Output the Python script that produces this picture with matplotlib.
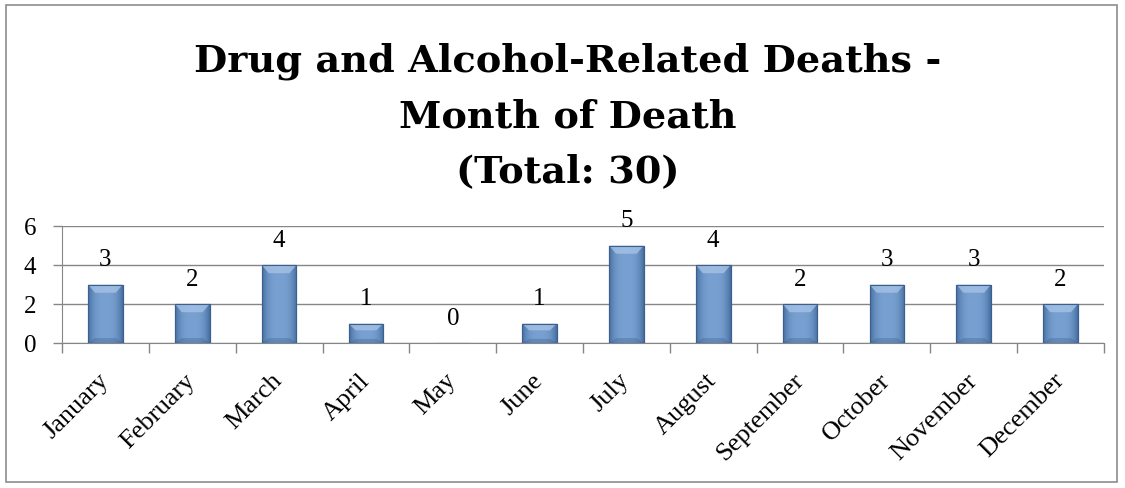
import matplotlib.pyplot as plt
import matplotlib.transforms as mtransforms
import numpy as np
from matplotlib.patches import Rectangle

months = ['January', 'February', 'March', 'April', 'May', 'June', 'July',
          'August', 'September', 'October', 'November', 'December']
deaths = [3, 2, 4, 1, 0, 1, 5, 4, 2, 3, 3, 2]
yticks = [0, 2, 4, 6]
title_lines = ['Drug and Alcohol-Related Deaths -', 'Month of Death', '(Total: 30)']

plt.rcParams['font.family'] = ['Liberation Serif', 'DejaVu Serif']

W, H = 1125, 489
fig = plt.figure(figsize=(W / 100, H / 100), dpi=100)
ax = fig.add_axes([62 / W, 1 - 344 / H, 1042 / W, 117 / H])

# outer chart border
fig.patches.append(Rectangle((6 / W, 6 / H), 1111 / W, 477 / H,
                             transform=fig.transFigure, fill=False,
                             edgecolor='#8c8c8c', lw=1.2))

# title, one line at a time (baselines)
for line, base in zip(title_lines, [72, 127, 182]):
    fig.text(568 / W, 1 - base / H, line, ha='center', va='baseline',
             fontsize=27.5, fontweight='bold', family=['DejaVu Serif'])

x = np.arange(len(months))
w = 0.40
# horizontal gradient for the bevelled bars
g = np.linspace(-1, 1, 64)
shade = 1 - np.abs(g) ** 3
dark = np.array([0.27, 0.43, 0.63])
light = np.array([0.47, 0.63, 0.82])
grad = dark[None, :] + (light - dark)[None, :] * shade[:, None]
grad = grad[None, :, :]

bars = ax.bar(x, deaths, width=w, color='#5a85bd', edgecolor='#3d5f8c', lw=0.8, zorder=3)
for b in bars:
    h = b.get_height()
    if h <= 0:
        continue
    x0 = b.get_x()
    im = ax.imshow(grad, extent=[x0, x0 + w, 0, h], aspect='auto', zorder=3.5,
                   interpolation='bicubic')
    im.set_clip_path(b)
    # top bevel highlight
    top = min(0.42, 0.35 * h)
    ax.fill([x0, x0 + w, x0 + w * 0.8, x0 + w * 0.2], [h, h, h - top, h - top],
            color='#a6c2e6', alpha=0.8, zorder=4, lw=0)
    # darker bottom bevel
    ax.fill([x0, x0 + w, x0 + w * 0.8, x0 + w * 0.2], [0, 0, top * 0.6, top * 0.6],
            color='#3b5f8e', alpha=0.35, zorder=4, lw=0)
    ax.add_patch(Rectangle((x0, 0), w, h, fill=False, edgecolor='#3d5f8c', lw=0.8, zorder=5))

for xi, v in zip(x, deaths):
    ax.annotate(str(v), (xi, v), xytext=(0, 14), textcoords='offset points',
                ha='center', va='baseline', fontsize=18)

ax.set_xlim(-0.5, len(months) - 0.5)
ax.set_ylim(0, 6)
ax.set_yticks(yticks)
ax.set_yticklabels([str(t) for t in yticks], fontsize=18)
ax.yaxis.grid(True, color='#868686', lw=1, zorder=0)
ax.set_axisbelow(True)

ax.set_xticks(x)
ax.set_xticklabels(months, rotation=45, ha='right', va='center', rotation_mode='anchor',
                   fontsize=19)
shift = mtransforms.ScaledTranslation(-5 / 100, 0, fig.dpi_scale_trans)
for lab in ax.get_xticklabels():
    lab.set_transform(lab.get_transform() + shift)
ax.set_xticks(np.arange(len(months) + 1) - 0.5, minor=True)
ax.tick_params(axis='x', which='major', length=0, pad=24)
ax.tick_params(axis='x', which='minor', length=7, color='#868686', width=1)
ax.tick_params(axis='y', length=6.5, color='#868686', width=1, pad=12)

for s in ['top', 'right']:
    ax.spines[s].set_visible(False)
ax.spines['left'].set_color('#868686')
ax.spines['bottom'].set_color('#868686')

fig.savefig('out.png', dpi=100)
